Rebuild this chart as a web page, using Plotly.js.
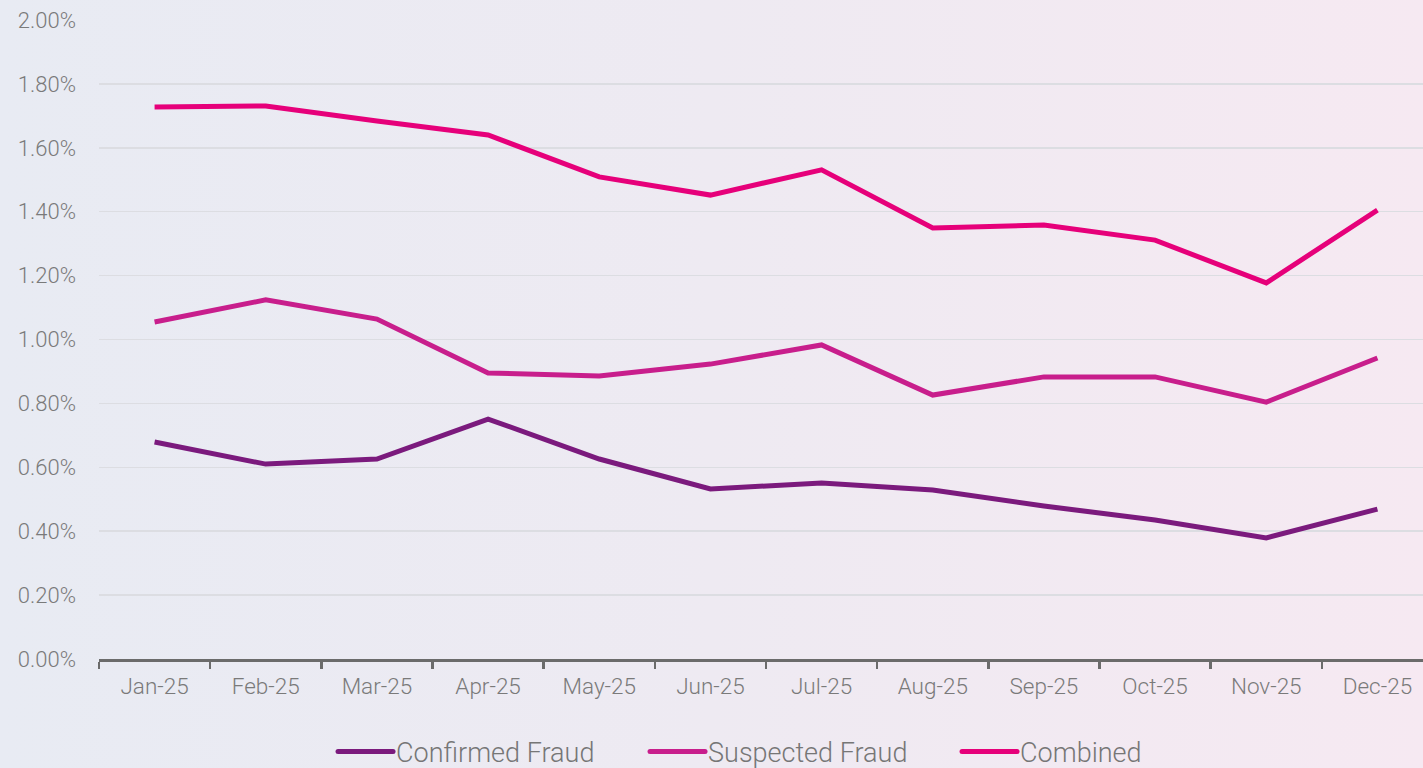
<!DOCTYPE html>
<html><head><meta charset="utf-8">
<script src="https://cdn.plot.ly/plotly-3.0.1.min.js"></script>
<style>
html,body{margin:0;padding:0;width:1423px;height:768px;overflow:hidden;
background:linear-gradient(90deg,#e8ebf3 0%,#eeeaf2 50%,#f6e9f2 100%);}
#chart{width:1434px;height:768px;}
</style></head>
<body><div id="chart"></div>
<script>
const months = ["Jan-25","Feb-25","Mar-25","Apr-25","May-25","Jun-25","Jul-25","Aug-25","Sep-25","Oct-25","Nov-25","Dec-25"];
const confirmed = [0.00679,0.00610,0.00626,0.00751,0.00626,0.00532,0.00551,0.00529,0.00479,0.00435,0.00379,0.00469];
const suspected = [0.01055,0.01124,0.01064,0.00895,0.00886,0.00923,0.00983,0.00826,0.00883,0.00883,0.00804,0.00942];
const combined = [0.01728,0.01731,0.01684,0.01640,0.01509,0.01452,0.01531,0.01349,0.01358,0.01311,0.01177,0.01405];
const names = ["Confirmed Fraud","Suspected Fraud","Combined"];
const colors = ["#7b1a7d","#c81e8c","#e6007a"];
const series = [confirmed, suspected, combined];
const data = series.map((s,i)=>({x:months,y:s,type:"scatter",mode:"lines",name:names[i],
  line:{color:colors[i],width:5}}));
const layout = {
  width:1433,height:768,
  paper_bgcolor:"rgba(0,0,0,0)",plot_bgcolor:"rgba(0,0,0,0)",
  margin:{l:99,r:0,t:20,b:109,pad:0},
  font:{family:"Roboto, sans-serif",color:"#757575"},
  showlegend:true,
  legend:{orientation:"h",x:0.1702,xanchor:"left",yref:"container",y:0.0208,yanchor:"middle",
    font:{size:27,color:"#767676",weight:300},itemwidth:60,entrywidth:237,entrywidthmode:"pixels",
    traceorder:"normal",tracegroupgap:0,bgcolor:"rgba(0,0,0,0)"},
  xaxis:{type:"category",range:[-0.5,11.5],showline:true,linecolor:"#6b6b6b",linewidth:2.5,
    ticks:"outside",tickson:"boundaries",ticklen:7,tickwidth:2.5,tickcolor:"#6b6b6b",
    showgrid:false,tickfont:{size:22.5,color:"#7a7a7a",weight:300},ticklabelstandoff:5,fixedrange:true},
  yaxis:{range:[0,0.02],tickformat:".2%",dtick:0.002,tick0:0,showline:false,
    gridcolor:"#dcdde2",gridwidth:1.5,zeroline:false,ticks:"",
    tickfont:{size:22,color:"#7a7a7a",weight:300},ticklabelstandoff:22,fixedrange:true}
};
Plotly.newPlot("chart",data,layout,{displayModeBar:false,staticPlot:true}).then(()=>{
  document.querySelectorAll(".legend .legendlines path").forEach(p=>{
    p.setAttribute("d","M12,0h55");
    p.style.strokeLinecap="round";
  });
});
</script></body></html>
